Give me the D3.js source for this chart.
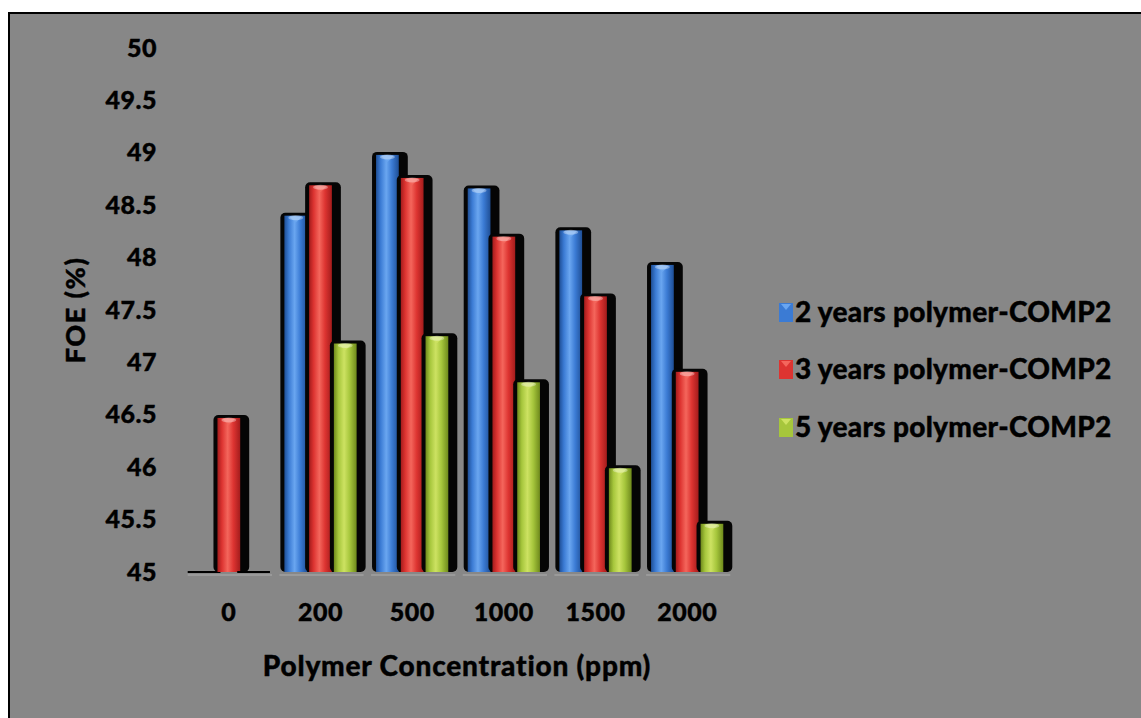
<!DOCTYPE html>
<html><head><meta charset="utf-8">
<script src="https://cdn.jsdelivr.net/npm/d3@7"></script>
<style>
html,body{margin:0;padding:0;background:#fff;}
svg{display:block;}
text{font-family:Lato,"Open Sans",sans-serif;font-weight:900;fill:#000;stroke:#000;stroke-width:0.4px;}
</style></head>
<body>
<svg id="c" width="1141" height="718"></svg>
<script>
const categories = ["0","200","500","1000","1500","2000"];
const seriesNames = ["2 years polymer-COMP2","3 years polymer-COMP2","5 years polymer-COMP2"];
const years2 = [45, 48.40, 48.98, 48.66, 48.26, 47.93];
const years3 = [46.47, 48.69, 48.76, 48.20, 47.63, 46.91];
const years5 = [45, 47.18, 47.25, 46.81, 45.99, 45.46];
const yTicks = [45,45.5,46,46.5,47,47.5,48,48.5,49,49.5,50];
const colors = ["#3b7bd4","#dd3431","#a6c63c"];
const lights = ["#6aa6f0","#f4665c","#cde262"];
const darks = ["#1f4f96","#a41c1c","#6f8a1c"];

const svg = d3.select("#c");
const defs = svg.append("defs");
colors.forEach((c,i)=>{
  const g = defs.append("linearGradient").attr("id","g"+i).attr("x1","0").attr("x2","1").attr("y1","0").attr("y2","0");
  g.append("stop").attr("offset","0").attr("stop-color",darks[i]);
  g.append("stop").attr("offset","0.2").attr("stop-color",c);
  g.append("stop").attr("offset","0.45").attr("stop-color",lights[i]);
  g.append("stop").attr("offset","0.7").attr("stop-color",c);
  g.append("stop").attr("offset","1").attr("stop-color",darks[i]);
});

// frame
svg.append("rect").attr("x",9).attr("y",13).attr("width",1140).attr("height",710)
  .attr("fill","#878787").attr("stroke","#000").attr("stroke-width",2);

const y = d3.scaleLinear().domain([45,50]).range([572,48]);
const x0 = d3.scaleBand().domain(categories).range([183,733]).paddingInner(0.19).paddingOuter(0.095);
const x1 = d3.scaleBand().domain(seriesNames).range([0,x0.bandwidth()]);

// y axis
const ya = svg.append("g").attr("transform","translate(170,0)")
  .call(d3.axisLeft(y).tickValues(yTicks).tickSize(0).tickPadding(13).tickFormat(d=>d3.format("")(d)));
ya.select(".domain").remove();
ya.selectAll("text").style("font-size","25px").style("font-family","Lato").style("font-weight","900")
  .style("letter-spacing","0.5px").attr("fill","#000");

// x axis
const xa = svg.append("g").attr("transform","translate(0,602)")
  .call(d3.axisBottom(x0).tickSize(0).tickPadding(0));
xa.select(".domain").remove();
xa.selectAll("text").style("font-size","25px").style("font-family","Lato").style("font-weight","900")
  .style("letter-spacing","0.5px").attr("fill","#000").attr("dy","0.75em");

// floor lines
categories.forEach(c=>{
  svg.append("line").attr("x1",x0(c)-4).attr("x2",x0(c)+x0.bandwidth()+6)
    .attr("y1",y(45)+3).attr("y2",y(45)+3).attr("stroke","#a0a0a0").attr("stroke-width",1.5);
});

const data = [years2, years3, years5];
const bars = svg.append("g");
categories.forEach((c,ci)=>{
  seriesNames.forEach((s,si)=>{
    const v = data[si][ci];
    const bx = x0(c) + x1(s);
    const bw = x1.bandwidth();
    const top = y(v), bot = y(45);
    if (bot - top < 1) {
      bars.append("line").attr("x1",bx-4).attr("x2",bx+bw+4).attr("y1",bot).attr("y2",bot)
        .attr("stroke","#000").attr("stroke-width",2);
      return;
    }
    bars.append("rect").attr("x",bx-3).attr("y",top-3).attr("width",bw+11).attr("height",bot-top+3)
      .attr("rx",5).attr("fill","#050505");
    bars.append("rect").attr("x",bx+1).attr("y",top).attr("width",bw-2).attr("height",bot-top)
      .attr("fill","url(#g"+si+")");
    bars.append("path")
      .attr("d",`M${bx+bw*0.25},${top+1} L${bx+bw*0.75},${top+1} L${bx+bw*0.5},${top+7} Z`)
      .attr("fill",lights[si]).attr("opacity",0.9);
    bars.append("ellipse").attr("cx",bx+bw/2).attr("cy",top+2).attr("rx",bw*0.3).attr("ry",2.5)
      .attr("fill","#fff").attr("opacity",0.35);
  });
});

// axis titles
svg.append("text").attr("x",457).attr("y",676).attr("text-anchor","middle")
  .style("font-size","28px").style("letter-spacing","0.8px").text("Polymer Concentration (ppm)");
svg.append("text").attr("transform","translate(85,310) rotate(-90)").attr("text-anchor","middle")
  .style("font-size","27px").style("letter-spacing","1.5px").text("FOE (%)");

// legend
const ly = [312,369,427];
seriesNames.forEach((s,i)=>{
  svg.append("rect").attr("x",779).attr("y",ly[i]-9).attr("width",14).attr("height",19)
    .attr("fill",colors[i]);
  svg.append("path").attr("d",`M${781},${ly[i]-8} L${791},${ly[i]-8} L${786},${ly[i]-2} Z`).attr("fill",lights[i]);
  svg.append("text").attr("x",795).attr("y",ly[i]+10).style("font-size","28px").style("letter-spacing","0.3px").text(s);
});
</script>
</body></html>
